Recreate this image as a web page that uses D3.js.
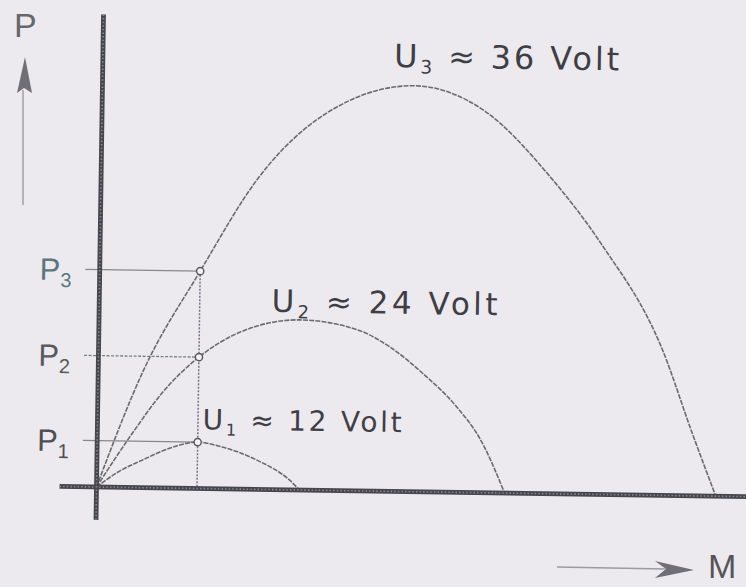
<!DOCTYPE html>
<html>
<head>
<meta charset="utf-8">
<script src="https://cdn.jsdelivr.net/npm/d3@7"></script>
<style>
  html, body { margin: 0; padding: 0; background: #eceaee; }
  svg { display: block; }
  text { font-family: "Liberation Sans", Arial, Helvetica, sans-serif; }
  text.volt { font-family: "DejaVu Sans", "Liberation Sans", sans-serif; }
</style>
</head>
<body>
<svg id="chart" width="746" height="587"></svg>
<script>
// Power P over torque M of a DC motor at three supply voltages
const voltages   = [12, 24, 36];
const subscripts = ["1", "2", "3"];

// torque (relative units) and power (relative units)
const torqueU1 = [0, 0.10, 0.22, 0.35, 0.49, 0.61, 0.78, 0.94, 0.99];
const powerU1  = [0, 0.33, 0.61, 0.88, 1.03, 0.93, 0.65, 0.22, 0];

const torqueU2 = [0, 0.17, 0.32, 0.49, 0.69, 0.98, 1.26, 1.42, 1.58, 1.75, 1.87, 1.99];
const powerU2  = [0, 1.20, 2.15, 2.92, 3.49, 3.78, 3.58, 3.21, 2.64, 1.90, 1.17, 0];

const torqueU3 = [0, 0.22, 0.49, 0.77, 1.21, 1.52, 1.86, 2.19, 2.44, 2.75, 2.90, 3.02];
const powerU3  = [0, 2.60, 4.83, 6.94, 8.68, 9.02, 8.50, 7.04, 5.59, 3.23, 1.40, 0];

const operatingTorque = 0.49;
const powerLabels = ["P", "P", "P"];

const series = [
  { M: torqueU1, P: powerU1 },
  { M: torqueU2, P: powerU2 },
  { M: torqueU3, P: powerU3 }
];

const svg = d3.select("#chart");
svg.append("rect").attr("width", 746).attr("height", 587).attr("fill", "#eceaee");

const x = d3.scaleLinear().domain([0, 3.15]).range([0, 646]);
const y = d3.scaleLinear().domain([0, 10.5]).range([0, -472.5]);

// the whole diagram sits slightly tilted on the page
const g = svg.append("g").attr("transform", "translate(96.5,487) rotate(0.85)");

const line = d3.line()
  .x(d => x(d[0]))
  .y(d => y(d[1]))
  .curve(d3.curveMonotoneX);

// reading lines: horizontal guides and the vertical line at the operating torque
const opPowers = series.map(s => s.P[s.M.indexOf(operatingTorque)]);

g.append("line")
  .attr("x1", x(operatingTorque)).attr("x2", x(operatingTorque))
  .attr("y1", y(d3.max(opPowers))).attr("y2", y(0))
  .attr("stroke", "#7a7088").attr("stroke-width", 1.5)
  .attr("stroke-dasharray", "2,1.5");

g.selectAll("line.guide")
  .data(opPowers)
  .join("line")
  .attr("class", "guide")
  .attr("x1", x(-0.07)).attr("x2", x(operatingTorque))
  .attr("y1", d => y(d)).attr("y2", d => y(d))
  .attr("stroke", (d, i) => i === 1 ? "#76827e" : "#88888e")
  .attr("stroke-width", 1.3)
  .attr("stroke-dasharray", (d, i) => i === 1 ? "3,1.5" : null);

// curves
g.selectAll("path.curve")
  .data(series)
  .join("path")
  .attr("class", "curve")
  .attr("d", s => line(s.M.map((m, i) => [m, s.P[i]])))
  .attr("fill", "none")
  .attr("stroke", "#6a6a70")
  .attr("stroke-width", 1.6)
  .attr("stroke-dasharray", "5,1.2");

// axes: thick beaded lines
function axisLine(x1, y1, x2, y2) {
  g.append("line").attr("x1", x1).attr("y1", y1).attr("x2", x2).attr("y2", y2)
    .attr("stroke", "#46464e").attr("stroke-width", 4.8);
  g.append("line").attr("x1", x1).attr("y1", y1).attr("x2", x2).attr("y2", y2)
    .attr("stroke", "#8a8a92").attr("stroke-width", 1.6)
    .attr("stroke-dasharray", "1.4,2.2");
}
axisLine(x(-0.18), y(0), x(3.3), y(0));
axisLine(x(0), y(-0.73), x(0), y(10.5));

// markers at the operating torque
g.selectAll("circle.op")
  .data(opPowers)
  .join("circle")
  .attr("class", "op")
  .attr("cx", x(operatingTorque))
  .attr("cy", d => y(d))
  .attr("r", 3.6)
  .attr("fill", "#f2f0f3")
  .attr("stroke", "#55555b")
  .attr("stroke-width", 1.4);

// P1, P2, P3 labels on the power axis
const pColors = ["#4f4f55", "#57595c", "#5b777b"];
opPowers.forEach((p, i) => {
  const t = g.append("text")
    .attr("x", x(0) - 60)
    .attr("y", y(p) + 11)
    .attr("font-size", 31)
    .attr("fill", pColors[i]);
  t.append("tspan").text(powerLabels[i]);
  t.append("tspan").attr("font-size", 20).attr("dy", 7).text(subscripts[i]);
});

// voltage labels
const voltLabelPos = [
  { m: 0.513, p: 1.32, size: 28, len: 199 },
  { m: 0.84,  p: 3.95, size: 31, len: 226 },
  { m: 1.42,  p: 9.43, size: 32, len: 225 }
];
voltages.forEach((v, i) => {
  const pos = voltLabelPos[i];
  const t = g.append("text")
    .attr("class", "volt")
    .attr("x", x(pos.m))
    .attr("y", y(pos.p))
    .attr("font-size", pos.size)
    .attr("fill", "#3e3e44")
    .attr("textLength", pos.len)
    .attr("lengthAdjust", "spacing");
  t.append("tspan").text("U");
  t.append("tspan").attr("font-size", pos.size * 0.58).attr("dy", 6).text(subscripts[i]);
  t.append("tspan").attr("dy", -6).text(" \u2248 " + v + " Volt");
});

// axis direction arrows and names
svg.append("line").attr("x1", 23).attr("y1", 90).attr("x2", 23).attr("y2", 205)
  .attr("stroke", "#9a9aa0").attr("stroke-width", 1.4);
svg.append("path").attr("d", "M25,57 L17,93 L24,88 L32,93 Z").attr("fill", "#6f6f75");
svg.append("text").attr("x", 14).attr("y", 37).attr("font-size", 34)
  .attr("fill", "#66666c").text("P");

svg.append("line").attr("x1", 557).attr("y1", 567).attr("x2", 665).attr("y2", 569)
  .attr("stroke", "#9a9aa0").attr("stroke-width", 1.4);
svg.append("path").attr("d", "M694,570 L655,561 L666,569 L655,578 Z").attr("fill", "#6f6f75");
svg.append("text").attr("x", 708).attr("y", 578).attr("font-size", 34)
  .attr("fill", "#55555a").text("M");
</script>
</body>
</html>
